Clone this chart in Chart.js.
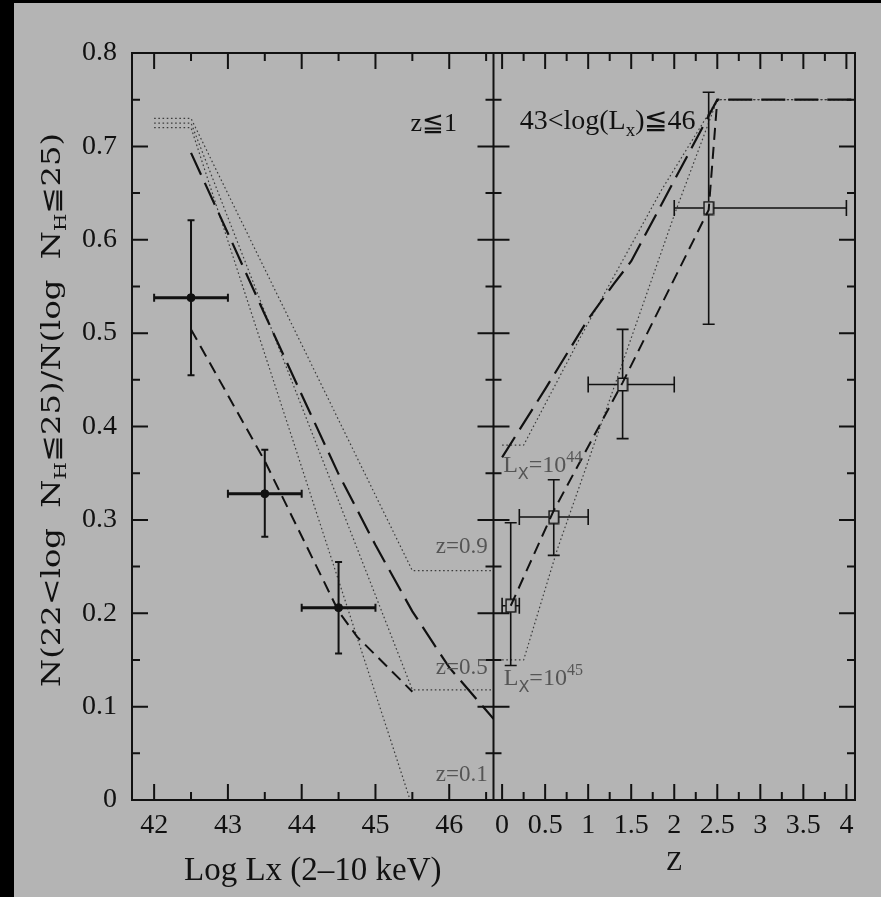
<!DOCTYPE html>
<html><head><meta charset="utf-8">
<script src="https://cdn.jsdelivr.net/npm/chart.js@4/dist/chart.umd.min.js"></script>
<style>
html,body{margin:0;padding:0;background:#000;}
#wrap{position:absolute;left:0;top:0;width:881px;height:897px;background:#000;overflow:hidden;}
#c{position:absolute;left:14px;top:3px;background:#b4b4b4;}
</style></head><body>
<div id="wrap"><canvas id="c" width="867" height="894"></canvas></div>
<script>
// ---------- tick values / labels ----------
const yTicks = [0, 0.1, 0.2, 0.3, 0.4, 0.5, 0.6, 0.7, 0.8];
const yTickLabels = ['0', '0.1', '0.2', '0.3', '0.4', '0.5', '0.6', '0.7', '0.8'];
const lxTicks = [42, 43, 44, 45, 46];
const lxTickLabels = ['42', '43', '44', '45', '46'];
const zTicks = [0, 0.5, 1, 1.5, 2, 2.5, 3, 3.5, 4];
const zTickLabels = ['0', '0.5', '1', '1.5', '2', '2.5', '3', '3.5', '4'];

// ---------- left panel (z <= 1): observed fractions vs log Lx ----------
const lxObs = [42.5, 43.5, 44.5];
const fracLxObs = [0.538, 0.328, 0.206];
const lxObsLo = [42.0, 43.0, 44.0];
const lxObsHi = [43.0, 44.0, 45.0];
const fracLxLo = [0.455, 0.282, 0.157];
const fracLxHi = [0.621, 0.375, 0.255];

// model curves, left panel
const leftZ01X = [42, 42.5, 45.47];
const leftZ01Y = [0.72, 0.72, 0.0];
const leftZ05X = [42, 42.5, 45.5, 46.6];
const leftZ05Y = [0.725, 0.725, 0.118, 0.118];
const leftZ09X = [42, 42.5, 45.5, 46.6];
const leftZ09Y = [0.73, 0.73, 0.2456, 0.2456];
const leftLongX = [42.5, 43, 43.5, 44, 44.5, 45, 45.5, 46, 46.6];
const leftLongY = [0.693, 0.607, 0.52, 0.434, 0.349, 0.273, 0.202, 0.142, 0.087];
const leftShortX = [42.5, 43.5, 44.5, 44.75, 45.5];
const leftShortY = [0.504, 0.363, 0.202, 0.175, 0.116];

// ---------- right panel (43 < log Lx <= 46): observed fractions vs z ----------
const zObs = [0.1, 0.6, 1.4, 2.4];
const fracZObs = [0.208, 0.303, 0.445, 0.634];
const zObsLo = [0.0, 0.2, 1.0, 2.0];
const zObsHi = [0.2, 1.0, 2.0, 4.0];
const fracZLo = [0.144, 0.262, 0.387, 0.5095];
const fracZHi = [0.297, 0.343, 0.504, 0.758];

// model curves, right panel
const rightL44X = [0, 0.25, 0.9, 1.85, 2.5, 4.1];
const rightL44Y = [0.38, 0.38, 0.494, 0.653, 0.75, 0.75];
const rightL45X = [0, 0.25, 0.64, 0.91, 1.41, 2.01, 2.5, 4.1];
const rightL45Y = [0.15, 0.15, 0.268, 0.339, 0.471, 0.629, 0.75, 0.75];
const rightLongX = [0, 0.5, 1.0, 1.3, 1.5, 2.5, 4.1];
const rightLongY = [0.367, 0.44, 0.515, 0.553, 0.577, 0.75, 0.75];
const rightShortX = [0.1, 0.6, 1.4, 2.4, 2.5];
const rightShortY = [0.208, 0.31, 0.447, 0.632, 0.75];

// ---------- helpers ----------
const zip = (xs, ys) => xs.map((x, i) => ({x: x, y: ys[i]}));
const INK = '#111111';
const DOT = '#3c3c3c';
const GRAYTXT = '#555555';
const SERIF = '"Liberation Serif", "DejaVu Serif", serif';

function lineDs(xs, ys, axis, dash, width, color) {
  return {type: 'scatter', showLine: true, data: zip(xs, ys), xAxisID: axis, yAxisID: 'y',
    borderColor: color, borderWidth: width, borderDash: dash, pointRadius: 0,
    pointHoverRadius: 0, fill: false, tension: 0};
}

// open square marker (slightly tall, as in the reference)
const sq = document.createElement('canvas');
sq.width = 12; sq.height = 15;
(function(){ const g = sq.getContext('2d'); g.strokeStyle = INK; g.lineWidth = 1.5;
  g.strokeRect(1.25, 1.25, 9.5, 12.5); })();

const datasets = [
  {type: 'scatter', data: zip(lxObs, fracLxObs), xAxisID: 'x1', yAxisID: 'y',
   pointStyle: 'circle', pointRadius: 4, backgroundColor: INK, borderColor: INK, borderWidth: 1,
   err: {xlo: lxObsLo, xhi: lxObsHi, ylo: fracLxLo, yhi: fracLxHi, hw: 3, vw: 2, xcap: 4, ycap: 3.5, gx: 0, gy: 0}},
  {type: 'scatter', data: zip(zObs, fracZObs), xAxisID: 'x2', yAxisID: 'y',
   pointStyle: sq, pointRadius: 6,
   err: {xlo: zObsLo, xhi: zObsHi, ylo: fracZLo, yhi: fracZHi, hw: 1.6, vw: 1.6, xcap: 8, ycap: 6, gx: 5, gy: 6.5}},
  lineDs(leftLongX, leftLongY, 'x1', [24, 9], 2.2, INK),
  lineDs(leftShortX, leftShortY, 'x1', [12, 7], 2, INK),
  lineDs(leftZ01X, leftZ01Y, 'x1', [1.6, 2.6], 1.2, DOT),
  lineDs(leftZ05X, leftZ05Y, 'x1', [1.6, 2.6], 1.2, DOT),
  lineDs(leftZ09X, leftZ09Y, 'x1', [1.6, 2.6], 1.2, DOT),
  lineDs(rightLongX, rightLongY, 'x2', [24, 9], 2.2, INK),
  lineDs(rightShortX, rightShortY, 'x2', [12, 7], 2, INK),
  lineDs(rightL44X, rightL44Y, 'x2', [1.6, 2.6], 1.2, DOT),
  lineDs(rightL45X, rightL45Y, 'x2', [1.6, 2.6], 1.2, DOT)
];

// ---------- plugins ----------
const errorBars = {
  id: 'errorBars',
  afterDatasetsDraw(chart) {
    const ctx = chart.ctx, ys = chart.scales.y;
    chart.data.datasets.forEach(ds => {
      if (!ds.err) return;
      const xs = chart.scales[ds.xAxisID], e = ds.err;
      ctx.save(); ctx.strokeStyle = INK; ctx.lineCap = 'butt';
      ds.data.forEach((p, k) => {
        const px = xs.getPixelForValue(p.x), py = ys.getPixelForValue(p.y);
        const x0 = xs.getPixelForValue(e.xlo[k]), x1 = xs.getPixelForValue(e.xhi[k]);
        const y0 = ys.getPixelForValue(e.ylo[k]), y1 = ys.getPixelForValue(e.yhi[k]);
        ctx.lineWidth = e.hw; ctx.beginPath();
        ctx.moveTo(x0, py); ctx.lineTo(px - e.gx, py);
        ctx.moveTo(px + e.gx, py); ctx.lineTo(x1, py);
        ctx.stroke();
        ctx.lineWidth = Math.min(e.hw, 2); ctx.beginPath();
        ctx.moveTo(x0, py - e.xcap); ctx.lineTo(x0, py + e.xcap);
        ctx.moveTo(x1, py - e.xcap); ctx.lineTo(x1, py + e.xcap);
        ctx.stroke();
        ctx.lineWidth = e.vw; ctx.beginPath();
        ctx.moveTo(px, y1); ctx.lineTo(px, py - e.gy);
        ctx.moveTo(px, py + e.gy); ctx.lineTo(px, y0);
        ctx.moveTo(px - e.ycap, y1); ctx.lineTo(px + e.ycap, y1);
        ctx.moveTo(px - e.ycap, y0); ctx.lineTo(px + e.ycap, y0);
        ctx.stroke();
      });
      ctx.restore();
    });
  }
};

const frameTicks = {
  id: 'frameTicks',
  afterDraw(chart) {
    const ctx = chart.ctx, top = chart.chartArea.top, bottom = chart.chartArea.bottom;
    const s1 = chart.scales.x1, s2 = chart.scales.x2, sy = chart.scales.y;
    const L = s1.left, M = s1.right, R = s2.right;
    const MAJ = 16, MIN = 8;
    ctx.save(); ctx.strokeStyle = INK; ctx.lineWidth = 2; ctx.lineCap = 'butt';
    ctx.beginPath();
    ctx.rect(L, top, R - L, bottom - top);
    ctx.moveTo(M, top); ctx.lineTo(M, bottom);
    const vt = (x, len) => { ctx.moveTo(x, bottom); ctx.lineTo(x, bottom - len); ctx.moveTo(x, top); ctx.lineTo(x, top + len); };
    const ht = (y, len) => {
      ctx.moveTo(L, y); ctx.lineTo(L + len, y);
      ctx.moveTo(M - len, y); ctx.lineTo(M + len, y);
      ctx.moveTo(R, y); ctx.lineTo(R - len, y);
    };
    lxTicks.forEach(v => { vt(s1.getPixelForValue(v), MAJ); const m = v + 0.5; if (m < s1.max) vt(s1.getPixelForValue(m), MIN); });
    zTicks.forEach(v => { vt(s2.getPixelForValue(v), MAJ); const m = v + 0.25; if (m < s2.max) vt(s2.getPixelForValue(m), MIN); });
    yTicks.forEach(v => { const y = sy.getPixelForValue(v); if (v > 0 && v < 0.8) ht(y, MAJ); const m = v + 0.05; if (m < 0.8) ht(sy.getPixelForValue(m), MIN); });
    ctx.stroke();
    ctx.restore();
  }
};

function drawRich(ctx, parts, x, y, size, family, color, align) {
  ctx.save(); ctx.fillStyle = color; ctx.textBaseline = 'alphabetic'; ctx.textAlign = 'left';
  const fontFor = p => (p.s ? Math.round(size * 0.68) : size) + 'px ' + (p.f || family);
  let total = 0;
  parts.forEach(p => { ctx.font = fontFor(p); total += ctx.measureText(p.t).width; });
  let cx = align === 'center' ? x - total / 2 : x;
  parts.forEach(p => {
    ctx.font = fontFor(p);
    const dy = p.s === 'sub' ? size * 0.28 : (p.s === 'sup' ? -size * 0.42 : 0);
    ctx.fillText(p.t, cx, y + dy);
    cx += ctx.measureText(p.t).width;
  });
  ctx.restore();
}

const annotations = {
  id: 'annotations',
  afterDraw(chart) {
    const ctx = chart.ctx, s1 = chart.scales.x1, s2 = chart.scales.x2, sy = chart.scales.y;
    const P1 = (x, y) => [s1.getPixelForValue(x), sy.getPixelForValue(y)];
    const P2 = (x, y) => [s2.getPixelForValue(x), sy.getPixelForValue(y)];
    let p;
    p = P1(45.79, 0.716); drawRich(ctx, [{t: 'z≦1'}], p[0], p[1], 26, SERIF, INK, 'center');
    p = P1(46.17, 0.265); drawRich(ctx, [{t: 'z=0.9'}], p[0], p[1], 23, SERIF, GRAYTXT, 'center');
    p = P1(46.17, 0.135); drawRich(ctx, [{t: 'z=0.5'}], p[0], p[1], 23, SERIF, GRAYTXT, 'center');
    p = P1(46.17, 0.020); drawRich(ctx, [{t: 'z=0.1'}], p[0], p[1], 23, SERIF, GRAYTXT, 'center');
    p = P2(0.204, 0.719);
    drawRich(ctx, [{t: '43<log(L'}, {t: 'x', s: 'sub'}, {t: ')≦46'}], p[0], p[1], 28, SERIF, INK, 'left');
    p = P2(0.012, 0.351);
    drawRich(ctx, [{t: 'L'}, {t: 'X', s: 'sub', f: '"DejaVu Sans", sans-serif'}, {t: '=10'}, {t: '44', s: 'sup'}], p[0], p[1], 24, SERIF, GRAYTXT, 'left');
    p = P2(0.019, 0.123);
    drawRich(ctx, [{t: 'L'}, {t: 'X', s: 'sub', f: '"DejaVu Sans", sans-serif'}, {t: '=10'}, {t: '45', s: 'sup'}], p[0], p[1], 24, SERIF, GRAYTXT, 'left');

    // rotated y-axis title with subscripts, stretched to the reference length
    const parts = [{t: 'N(22<log  N'}, {t: 'H', s: 'sub'}, {t: '≦25)/N(log  N'}, {t: 'H', s: 'sub'}, {t: '≦25)'}];
    const size = 26, fam = '"DejaVu Serif", serif';
    ctx.save();
    let total = 0;
    parts.forEach(q => { ctx.font = (q.s ? Math.round(size * 0.62) : size) + 'px ' + fam; total += ctx.measureText(q.t).width; });
    const target = 554;
    ctx.translate(46, 407); ctx.rotate(-Math.PI / 2); ctx.scale(target / total, 1);
    ctx.fillStyle = INK; ctx.textBaseline = 'alphabetic';
    let cx = -total / 2;
    parts.forEach(q => {
      ctx.font = (q.s ? Math.round(size * 0.62) : size) + 'px ' + fam;
      ctx.fillText(q.t, cx, q.s ? size * 0.22 : 0);
      cx += ctx.measureText(q.t).width;
    });
    ctx.restore();
  }
};

// ---------- chart ----------
const tickFont = {family: SERIF, size: 28};
new Chart(document.getElementById('c'), {
  type: 'scatter',
  data: {datasets: datasets},
  options: {
    responsive: false, animation: false, devicePixelRatio: 1,
    layout: {padding: {left: 0, top: 50, right: 26, bottom: 0}},
    plugins: {legend: {display: false}, tooltip: {enabled: false}},
    scales: {
      x1: {type: 'linear', position: 'bottom', stack: 'xs', stackWeight: 1, min: 41.7, max: 46.6,
        afterBuildTicks: s => { s.ticks = lxTicks.map(v => ({value: v})); },
        afterFit: s => { s.height = 97; },
        ticks: {callback: v => { const i = lxTicks.indexOf(v); return i >= 0 ? lxTickLabels[i] : ''; },
          font: tickFont, color: INK, padding: 9, maxRotation: 0, autoSkip: false},
        grid: {display: false, drawTicks: false}, border: {display: false},
        title: {display: true, text: 'Log Lx (2–10 keV)', color: INK, font: {family: SERIF, size: 33}, padding: {top: 0, bottom: 6}}},
      x2: {type: 'linear', position: 'bottom', stack: 'xs', stackWeight: 1, min: -0.1, max: 4.1,
        afterBuildTicks: s => { s.ticks = zTicks.map(v => ({value: v})); },
        afterFit: s => { s.height = 97; },
        ticks: {callback: v => { const i = zTicks.indexOf(v); return i >= 0 ? zTickLabels[i] : ''; },
          font: tickFont, color: INK, padding: 9, maxRotation: 0, autoSkip: false},
        grid: {display: false, drawTicks: false}, border: {display: false},
        title: {display: true, text: 'Z', color: INK, font: {family: SERIF, size: 27}, padding: {top: 0, bottom: 18}}},
      y: {type: 'linear', position: 'left', min: 0, max: 0.8,
        afterBuildTicks: s => { s.ticks = yTicks.map(v => ({value: v})); },
        afterFit: s => { s.width = 118; },
        ticks: {callback: v => { const i = yTicks.indexOf(v); return i >= 0 ? yTickLabels[i] : ''; },
          font: tickFont, color: INK, padding: 15},
        grid: {display: false, drawTicks: false}, border: {display: false}}
    }
  },
  plugins: [errorBars, frameTicks, annotations]
});
</script>
</body></html>
